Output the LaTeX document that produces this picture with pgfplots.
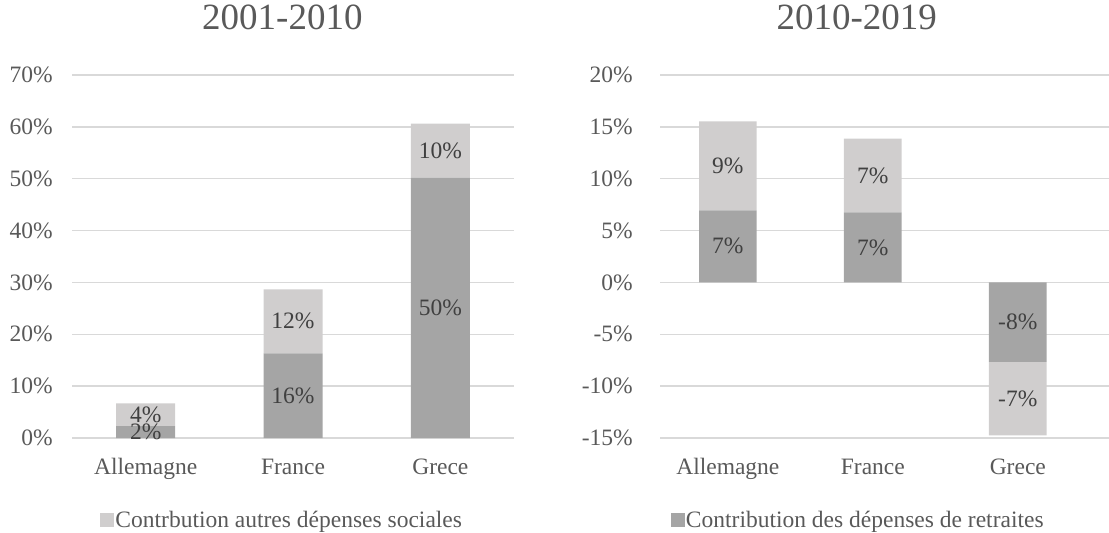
\documentclass[border=0pt]{standalone}
\usepackage{pgfplots}
\pgfplotsset{compat=1.18}
\usepackage{fontspec}
\setmainfont{Liberation Serif}
\definecolor{dark}{HTML}{A5A5A5}
\definecolor{light}{HTML}{D0CECE}
\definecolor{gridc}{HTML}{D9D9D9}
\definecolor{txt}{HTML}{595959}
\definecolor{lbl}{HTML}{404040}
\newcommand{\fs}{\fontsize{23.5bp}{28bp}\selectfont}
\newcommand{\fst}{\fontsize{37bp}{42bp}\selectfont}
\pgfplotsset{
  base/.style={scale only axis, height=363bp, anchor=south west,
    ymajorgrids, grid style={gridc, line width=1.5bp},
    axis line style={draw=none}, major tick length=0pt, tick style={draw=none},
    xtick={0,1,2}, xticklabels={Allemagne,France,Grece},
    ticklabel style={font=\fs, text=txt},
    xticklabel style={anchor=base, yshift=-36bp, inner sep=0pt},
    clip=false,
    title style={font=\fst, text=txt, anchor=base, yshift=40bp, inner sep=0pt},
    legend style={draw=none, fill=none, font=\fs, text=txt, anchor=west,
      inner sep=0pt, nodes={inner sep=1bp}},
  },
  sq/.style={legend image code/.code={\fill[##1, draw=none] (0bp,-7bp) rectangle (14bp,7bp);}},
  lab/.style={scale only axis, height=363bp, anchor=south west, hide axis, clip=false},
  labplot/.style={draw=none, mark=none, nodes near coords, point meta=explicit symbolic,
    nodes near coords style={anchor=center, font=\fs, text=lbl, inner sep=0pt}},
}
\begin{document}
\begin{tikzpicture}
\useasboundingbox (0,0) rectangle (1109bp,533bp);
% Left panel
\begin{axis}[base, width=442bp, at={(72bp,95bp)},
  xmin=-0.5, xmax=2.5, ymin=0, ymax=70,
  ytick={0,10,20,30,40,50,60,70},
  yticklabels={0\%,10\%,20\%,30\%,40\%,50\%,60\%,70\%},
  yticklabel style={anchor=east, inner sep=0pt, xshift=-19bp},
  ybar stacked, bar width=59bp, sq,
  title={2001-2010}, title style={at={(0.476,1)}},
  legend style={at={(0.064,-0.226)}}]
\addplot[fill=dark, draw=none, forget plot] coordinates {(0,2.3) (1,16.3) (2,50.2)};
\addplot[fill=light, draw=none] coordinates {(0,4.4) (1,12.35) (2,10.4)};
\addlegendentry{Contrbution autres dépenses sociales}
\end{axis}
\begin{axis}[lab, width=442bp, at={(72bp,95bp)}, xmin=-0.5, xmax=2.5, ymin=0, ymax=70]
\addplot[labplot] coordinates {(0,1.15)[2\%] (0,4.5)[4\%] (1,8.15)[16\%] (1,22.5)[12\%] (2,25.1)[50\%] (2,55.4)[10\%]};
\end{axis}
% Right panel
\begin{axis}[base, width=449bp, at={(660bp,95bp)},
  xmin=-0.468, xmax=2.629, ymin=-15, ymax=20,
  ytick={-15,-10,-5,0,5,10,15,20},
  yticklabels={-15\%,-10\%,-5\%,0\%,5\%,10\%,15\%,20\%},
  yticklabel style={anchor=east, inner sep=0pt, xshift=-27bp},
  ybar stacked, bar width=57.7bp, sq,
  title={2010-2019}, title style={at={(0.438,1)}},
  legend style={at={(0.024,-0.226)}}]
\addplot[fill=dark, draw=none] coordinates {(0,6.95) (1,6.76) (2,-7.66)};
\addlegendentry{Contribution des dépenses de retraites}
\addplot[fill=light, draw=none, forget plot] coordinates {(0,8.59) (1,7.11) (2,-7.09)};
\end{axis}
\begin{axis}[lab, width=449bp, at={(660bp,95bp)}, xmin=-0.468, xmax=2.629, ymin=-15, ymax=20]
\addplot[labplot] coordinates {(0,3.48)[7\%] (0,11.25)[9\%] (1,3.38)[7\%] (1,10.3)[7\%] (2,-3.83)[-8\%] (2,-11.2)[-7\%]};
\end{axis}
\end{tikzpicture}
\end{document}
